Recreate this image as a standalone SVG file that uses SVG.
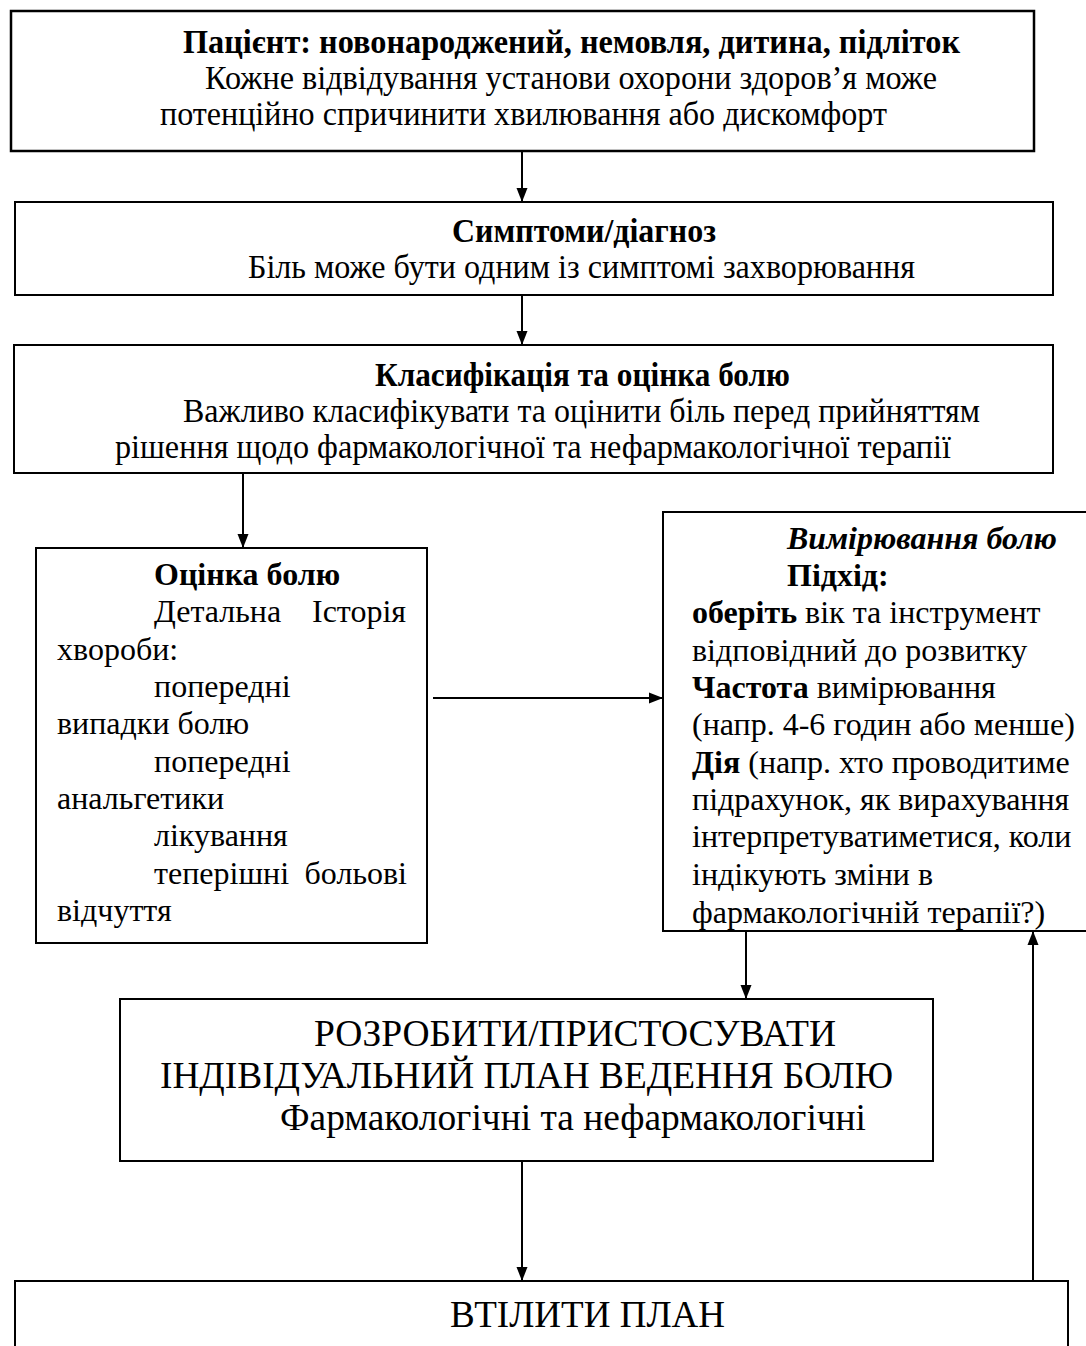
<svg xmlns="http://www.w3.org/2000/svg" width="1086" height="1346" viewBox="0 0 1086 1346">
<style>
.box{fill:#fff;stroke:#000;stroke-width:2}
.t{font-family:"Liberation Serif","Times New Roman",serif;font-size:32px;fill:#000}
.c{font-size:34px}
.b{font-weight:bold}
.bi{font-weight:bold;font-style:italic}
.big{font-size:37px}
.con{stroke:#000;stroke-width:2;fill:none}
</style>
<defs>
<marker id="ah" viewBox="0 0 14 12" refX="14" refY="6" markerWidth="14" markerHeight="12" markerUnits="userSpaceOnUse" orient="auto">
<path d="M0,0.5 L14,6 L0,11.5 Z" fill="#000"/>
</marker>
<clipPath id="c5"><rect x="663" y="512" width="430" height="419"/></clipPath>
</defs>
<rect width="1086" height="1346" fill="#fff"/>

<g id="connectors">
<line class="con" x1="522" y1="151" x2="522" y2="202" marker-end="url(#ah)"/>
<line class="con" x1="522" y1="295" x2="522" y2="345" marker-end="url(#ah)"/>
<line class="con" x1="243" y1="473" x2="243" y2="548" marker-end="url(#ah)"/>
<line class="con" x1="433" y1="698" x2="663" y2="698" marker-end="url(#ah)"/>
<line class="con" x1="746" y1="931" x2="746" y2="999" marker-end="url(#ah)"/>
<line class="con" x1="522" y1="1161" x2="522" y2="1281" marker-end="url(#ah)"/>
<line class="con" x1="1033" y1="1281" x2="1033" y2="931" marker-end="url(#ah)"/>
</g>

<g id="patient">
<rect class="box" x="11" y="11" width="1023" height="140" style="stroke-width:2.5"/>
<text class="t c b" x="183" y="53" textLength="777" lengthAdjust="spacingAndGlyphs">Пацієнт: новонароджений, немовля, дитина, підліток</text>
<text class="t c" x="205" y="89" textLength="732" lengthAdjust="spacingAndGlyphs">Кожне відвідування установи охорони здоров’я може</text>
<text class="t c" x="160" y="125" textLength="727" lengthAdjust="spacingAndGlyphs">потенційно спричинити хвилювання або дискомфорт</text>
</g>

<g id="symptoms">
<rect class="box" x="15" y="202" width="1038" height="93"/>
<text class="t c b" x="452" y="242" textLength="264" lengthAdjust="spacingAndGlyphs">Симптоми/діагноз</text>
<text class="t c" x="248" y="278" textLength="667" lengthAdjust="spacingAndGlyphs">Біль може бути одним із симптомі захворювання</text>
</g>

<g id="classification">
<rect class="box" x="14" y="345" width="1039" height="128"/>
<text class="t c b" x="375" y="386" textLength="415" lengthAdjust="spacingAndGlyphs">Класифікація та оцінка болю</text>
<text class="t c" x="183" y="422" textLength="797" lengthAdjust="spacingAndGlyphs">Важливо класифікувати та оцінити біль перед прийняттям</text>
<text class="t c" x="115" y="458" textLength="836" lengthAdjust="spacingAndGlyphs">рішення щодо фармакологічної та нефармакологічної терапії</text>
</g>

<g id="assessment">
<rect class="box" x="36" y="548" width="391" height="395"/>
<text class="t b" x="154" y="585">Оцінка болю</text>
<text class="t" x="154" y="622">Детальна</text>
<text class="t" x="406" y="622" text-anchor="end">Історія</text>
<text class="t" x="57" y="660">хвороби:</text>
<text class="t" x="154" y="697">попередні</text>
<text class="t" x="57" y="734">випадки болю</text>
<text class="t" x="154" y="772">попередні</text>
<text class="t" x="57" y="809">анальгетики</text>
<text class="t" x="154" y="846">лікування</text>
<text class="t" x="154" y="884">теперішні</text>
<text class="t" x="407" y="884" text-anchor="end">больові</text>
<text class="t" x="57" y="921">відчуття</text>
</g>

<g id="measurement">
<rect class="box" x="663" y="512" width="440" height="419"/>
<g clip-path="url(#c5)">
<text class="t bi" x="787" y="549">Вимірювання болю</text>
<text class="t b" x="787" y="586">Підхід:</text>
<text class="t" x="692" y="623"><tspan class="b">оберіть</tspan> вік та інструмент</text>
<text class="t" x="692" y="661">відповідний до розвитку</text>
<text class="t" x="692" y="698"><tspan class="b">Частота</tspan> вимірювання</text>
<text class="t" x="692" y="735">(напр. 4-6 годин або менше)</text>
<text class="t" x="692" y="773"><tspan class="b">Дія</tspan> (напр. хто проводитиме</text>
<text class="t" x="692" y="810">підрахунок, як вирахування</text>
<text class="t" x="692" y="847">інтерпретуватиметися, коли</text>
<text class="t" x="692" y="885">індікують зміни в</text>
<text class="t" x="692" y="923">фармакологічній терапії?)</text>
</g>
</g>

<g id="plan">
<rect class="box" x="120" y="999" width="813" height="162"/>
<text class="t big" x="314" y="1046" textLength="522" lengthAdjust="spacingAndGlyphs">РОЗРОБИТИ/ПРИСТОСУВАТИ</text>
<text class="t big" x="160" y="1088" textLength="733" lengthAdjust="spacingAndGlyphs">ІНДІВІДУАЛЬНИЙ ПЛАН ВЕДЕННЯ БОЛЮ</text>
<text class="t big" x="280" y="1130" textLength="586" lengthAdjust="spacingAndGlyphs">Фармакологічні та нефармакологічні</text>
</g>

<g id="implement">
<rect class="box" x="15" y="1281" width="1053" height="90"/>
<text class="t big" x="450" y="1327" textLength="275" lengthAdjust="spacingAndGlyphs" style="font-size:38px">ВТІЛИТИ ПЛАН</text>
</g>
</svg>
